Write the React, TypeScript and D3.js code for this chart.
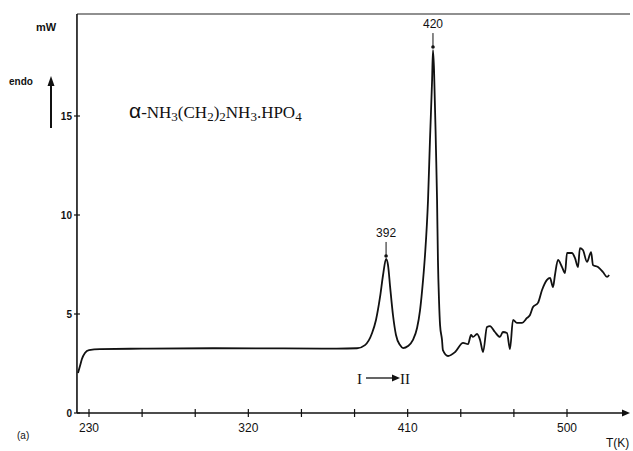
import React from 'react';
import * as d3 from 'd3';

// DSC trace: temperature (K) vs heat flow (mW)
const temps = [
  223.8, 224.9, 226.0, 227.7, 230.0, 236.2, 260, 300, 340, 370, 381.4, 385.9, 389.9,
  392.1, 394.4, 396.1, 397.8, 398.9, 400.1, 401.7, 403.4, 405.7, 407.4, 410.2, 413.0,
  415.3, 417.0, 418.7, 419.8, 421.5, 422.6, 423.8, 424.3, 424.9, 426.0, 426.6, 427.1,
  427.7, 428.3, 429.4, 429.9, 432.8, 436.8, 441.3, 444.1, 445.8, 446.9, 449.2, 450.9,
  452.6, 454.8, 456.5, 459.3, 462.1, 463.8, 466.1, 467.8, 469.5, 471.7, 474.6, 477.4,
  479.1, 480.8, 483.6, 485.9, 488.7, 490.4, 492.1, 493.2, 494.9, 497.2, 498.9, 500.0,
  502.8, 504.5, 506.2, 507.3, 509.0, 511.3, 513.6, 514.7, 517.5, 520.3, 522.6, 523.8,
];
const heatFlow = [
  2.02, 2.37, 2.73, 3.03, 3.18, 3.23, 3.25, 3.27, 3.26, 3.25, 3.27, 3.43, 4.04,
  4.7, 5.86, 6.97, 7.78, 7.47, 6.36, 4.95, 3.94, 3.43, 3.28, 3.38, 3.69,
  4.29, 5.2, 6.72, 7.98, 10.76, 13.79, 16.82, 18.33, 17.32, 13.28, 10.76, 7.73,
  5.71, 4.44, 3.69, 3.18, 2.88, 3.08, 3.54, 3.48, 3.94, 3.84, 3.99, 3.69,
  3.08, 4.34, 4.39, 4.09, 3.84, 4.09, 4.04, 3.23, 4.7, 4.55, 4.55, 4.8,
  4.95, 5.35, 5.56, 6.21, 6.72, 6.82, 6.36, 6.97, 7.73, 7.37, 7.07, 8.08,
  8.08, 7.83, 7.37, 8.33, 8.23, 7.63, 8.13, 7.47, 7.37, 7.12, 6.87, 6.97,
];

const xTicks = [230, 260, 290, 320, 350, 380, 410, 440, 470, 500];
const xTickLabels = [230, 320, 410, 500];
const yTicks = [0, 5, 10, 15];
const peaks = [
  { label: '392', t: 397.8, v: 7.78 },
  { label: '420', t: 424.3, v: 18.33 },
];

const W = 633;
const H = 451;
const sans = '"Liberation Sans", Arial, sans-serif';
const serif = '"Liberation Serif", "Times New Roman", serif';

export default function App() {
  const x = d3.scaleLinear().domain([230, 500]).range([89, 567]);
  const y = d3.scaleLinear().domain([0, 15]).range([413, 116]);
  const axisX = x(223.2);
  const axisY = y(0);
  const right = 630;
  const top = 14;

  const pts = temps.map((t, i) => [t, heatFlow[i]] as [number, number]);
  const line = d3
    .line<[number, number]>()
    .x((d) => x(d[0]))
    .y((d) => y(d[1]))
    .curve(d3.curveMonotoneX);

  return (
    <svg
      width={W}
      height={H}
      style={{ position: 'absolute', left: 0, top: 0, background: '#fff' }}
    >
      {/* frame: top line and y axis */}
      <line x1={axisX} y1={top} x2={right} y2={top} stroke="#222" strokeWidth={1.2} />
      <line x1={axisX} y1={top} x2={axisX} y2={axisY} stroke="#111" strokeWidth={1.6} />
      {/* x axis with arrow */}
      <line x1={axisX} y1={axisY} x2={right - 4} y2={axisY} stroke="#111" strokeWidth={1.6} />
      <path d={`M${right},${axisY} L${right - 8},${axisY - 3.5} L${right - 8},${axisY + 3.5} Z`} fill="#111" />

      {xTicks.map((t) => (
        <line key={t} x1={x(t)} x2={x(t)} y1={axisY - 4} y2={axisY + 4} stroke="#111" strokeWidth={1.2} />
      ))}
      {xTickLabels.map((t) => (
        <text key={t} x={x(t)} y={axisY + 19} textAnchor="middle" fontFamily={sans} fontSize={12} fill="#111">
          {t}
        </text>
      ))}
      {yTicks.map((v) => (
        <g key={v}>
          <line x1={axisX - 3} x2={axisX + 3} y1={y(v)} y2={y(v)} stroke="#111" strokeWidth={1.2} />
          <text x={axisX - 5} y={y(v) + 4} textAnchor="end" fontFamily={sans} fontSize={10} fontWeight="bold" fill="#111">
            {v}
          </text>
        </g>
      ))}

      {/* units and endo arrow */}
      <text x={36} y={31} fontFamily={sans} fontSize={11} fontWeight="bold" fill="#111">mW</text>
      <text x={9} y={85} fontFamily={sans} fontSize={10} fontWeight="bold" fill="#111">endo</text>
      <line x1={51} y1={83} x2={51} y2={128} stroke="#111" strokeWidth={2} />
      <path d="M51,76 L47.5,86 L54.5,86 Z" fill="#111" />

      <text x={606} y={447} fontFamily={sans} fontSize={12} fill="#111">T(K)</text>
      <text x={17} y={439} fontFamily={sans} fontSize={10} fill="#111">(a)</text>

      {/* compound name */}
      <text x={129} y={118} fontFamily={serif} fontSize={17} fill="#111">
        <tspan fontFamily={sans} fontSize={21}>α</tspan>
        <tspan>-NH</tspan>
        <tspan fontSize={13} dy={3}>3</tspan>
        <tspan dy={-3}>(CH</tspan>
        <tspan fontSize={13} dy={3}>2</tspan>
        <tspan dy={-3}>)</tspan>
        <tspan fontSize={13} dy={3}>2</tspan>
        <tspan dy={-3}>NH</tspan>
        <tspan fontSize={13} dy={3}>3</tspan>
        <tspan dy={-3}>.HPO</tspan>
        <tspan fontSize={13} dy={3}>4</tspan>
      </text>

      {/* transition label */}
      <text x={357} y={384} fontFamily={serif} fontSize={15} fill="#111">I</text>
      <line x1={366} y1={378} x2={394} y2={378} stroke="#111" strokeWidth={1.3} />
      <path d="M400,378 L392,374.5 L392,381.5 Z" fill="#111" />
      <text x={400} y={384} fontFamily={serif} fontSize={15} fill="#111">II</text>

      {/* peak markers */}
      {peaks.map((p) => {
        const px = x(p.t);
        const py = y(p.v);
        return (
          <g key={p.label}>
            <text x={px} y={py - 22} textAnchor="middle" fontFamily={sans} fontSize={12} fill="#111">
              {p.label}
            </text>
            <line x1={px} x2={px} y1={py - 17} y2={py - 3} stroke="#111" strokeWidth={1} />
            <circle cx={px} cy={py - 3} r={1.8} fill="#111" />
          </g>
        );
      })}

      {/* DSC curve */}
      <path d={line(pts) || ''} fill="none" stroke="#111" strokeWidth={1.8} strokeLinejoin="round" />
    </svg>
  );
}
